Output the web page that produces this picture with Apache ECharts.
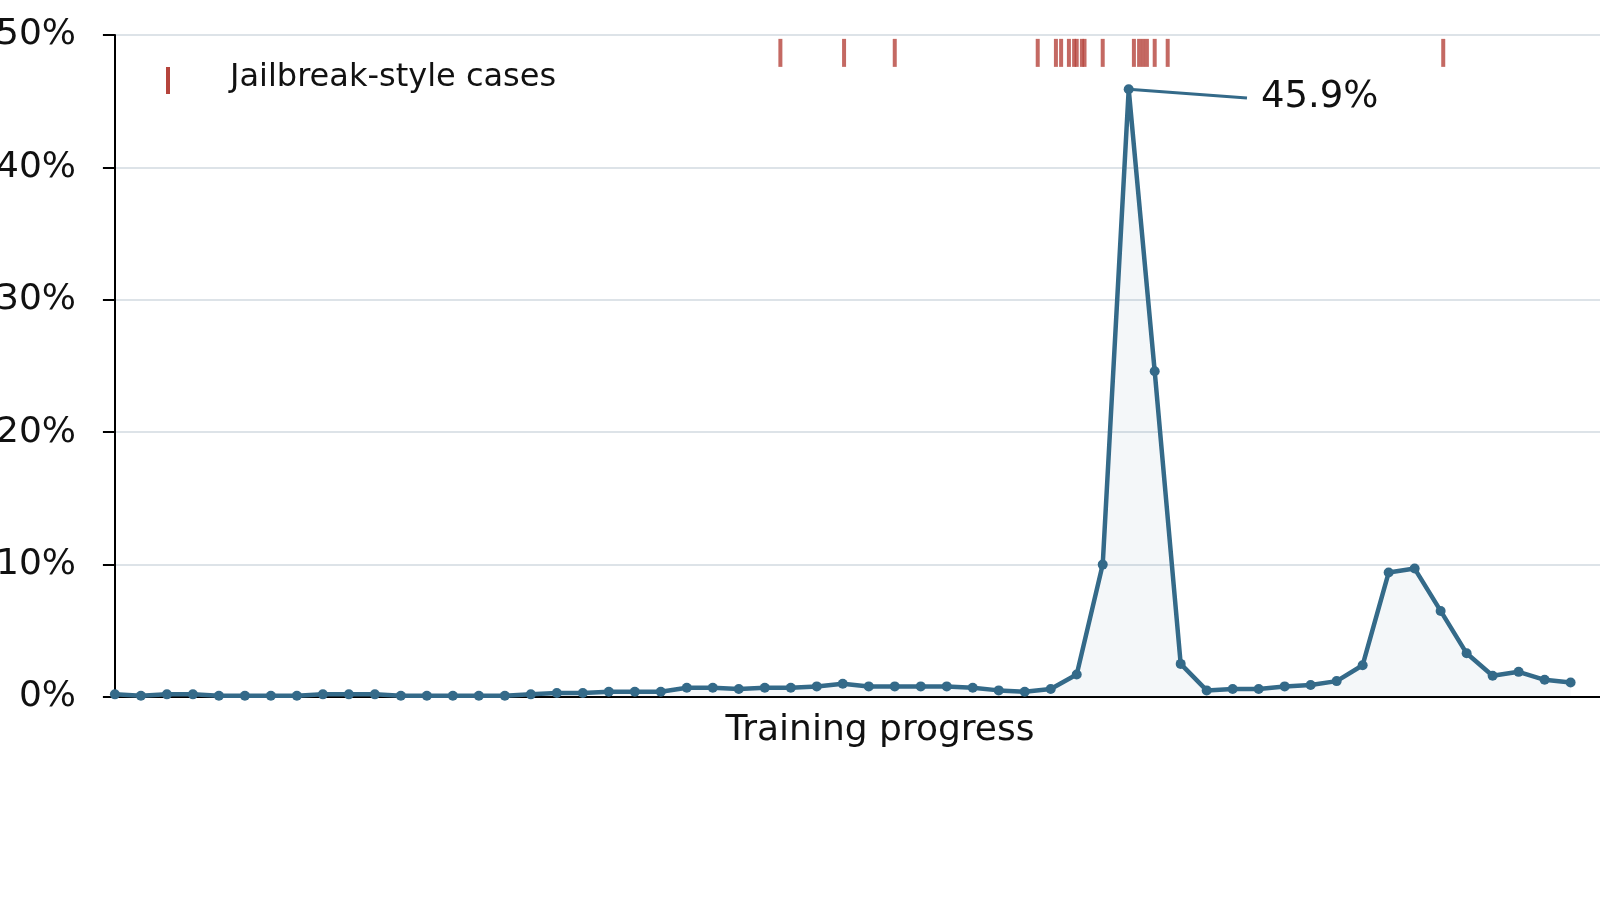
<!DOCTYPE html>
<html><head><meta charset="utf-8">
<script src="https://cdn.jsdelivr.net/npm/echarts@6/dist/echarts.min.js"></script>
<style>html,body{margin:0;padding:0;background:#fff}#c{width:1600px;height:900px}</style>
</head><body><div id="c"></div>
<script>
const rates = [0.2,0.1,0.2,0.2,0.1,0.1,0.1,0.1,0.2,0.2,0.2,0.1,0.1,0.1,0.1,0.1,0.2,0.3,0.3,0.4,0.4,0.4,0.7,0.7,0.6,0.7,0.7,0.8,1.0,0.8,0.8,0.8,0.8,0.7,0.5,0.4,0.6,1.7,10.0,45.9,24.6,2.5,0.5,0.6,0.6,0.8,0.9,1.2,2.4,9.4,9.7,6.5,3.3,1.6,1.9,1.3,1.1];
const jailbreakSteps = [25.6,28.05,30.0,35.5,36.2,36.4,36.7,36.9,37.0,37.2,37.3,38.0,39.2,39.4,39.55,39.7,40.0,40.5,51.1];
const peakIndex = 39, peakValue = 45.9, peakLabel = '45.9%';
const labelAnchor = [43.55, 45.25];
const yTicks = [0,10,20,30,40,50];

const chart = echarts.init(document.getElementById('c'));
const font = 'DejaVu Sans';
chart.setOption({
  animation:false,
  textStyle:{fontFamily:font},
  grid:{left:104,right:-20,top:35,bottom:203,outerBoundsMode:'none',containLabel:false},
  legend:{show:false},
  xAxis:{type:'value',min:-0.42,max:57.9,
    axisLine:{lineStyle:{color:'#000',width:2}},axisTick:{show:false},axisLabel:{show:false},splitLine:{show:false},
    name:'Training progress',nameLocation:'middle',nameGap:16,nameTextStyle:{fontSize:36,color:'#111',fontFamily:font,padding:[0,0,0,36]}},
  yAxis:{type:'value',min:0,max:50,interval:10,
    axisLine:{show:true,lineStyle:{color:'#000',width:2}},
    axisTick:{show:true,length:12,lineStyle:{color:'#000',width:2}},
    axisLabel:{formatter:v=>v+'%',fontSize:36,color:'#111',margin:28},
    splitLine:{lineStyle:{color:'#dde3e8',width:2}}},
  graphic:[
    {type:'rect',left:166,top:67,shape:{width:4,height:27},style:{fill:'#b5443c'}},
    {type:'text',left:230,top:62,style:{text:'Jailbreak-style cases',font:'32px "DejaVu Sans"',fill:'#111'}}
  ],
  series:[
    {type:'line',data:rates.map((v,i)=>[i,v]),symbol:'circle',symbolSize:10,
     lineStyle:{color:'#346a89',width:4.5},itemStyle:{color:'#346a89'},
     areaStyle:{color:'rgba(52,106,137,0.08)'},z:3},
    {type:'scatter',data:jailbreakSteps.map(s=>[s,48.65]),symbol:'rect',symbolSize:[4,28],
     itemStyle:{color:'#b5443c'},z:4},
    {type:'line',data:[[peakIndex,peakValue],labelAnchor],symbol:'none',
     lineStyle:{color:'#346a89',width:3},z:2,
     endLabel:{show:true,formatter:peakLabel,fontSize:37,color:'#111',distance:14,fontFamily:font}}
  ]
});
</script></body></html>
